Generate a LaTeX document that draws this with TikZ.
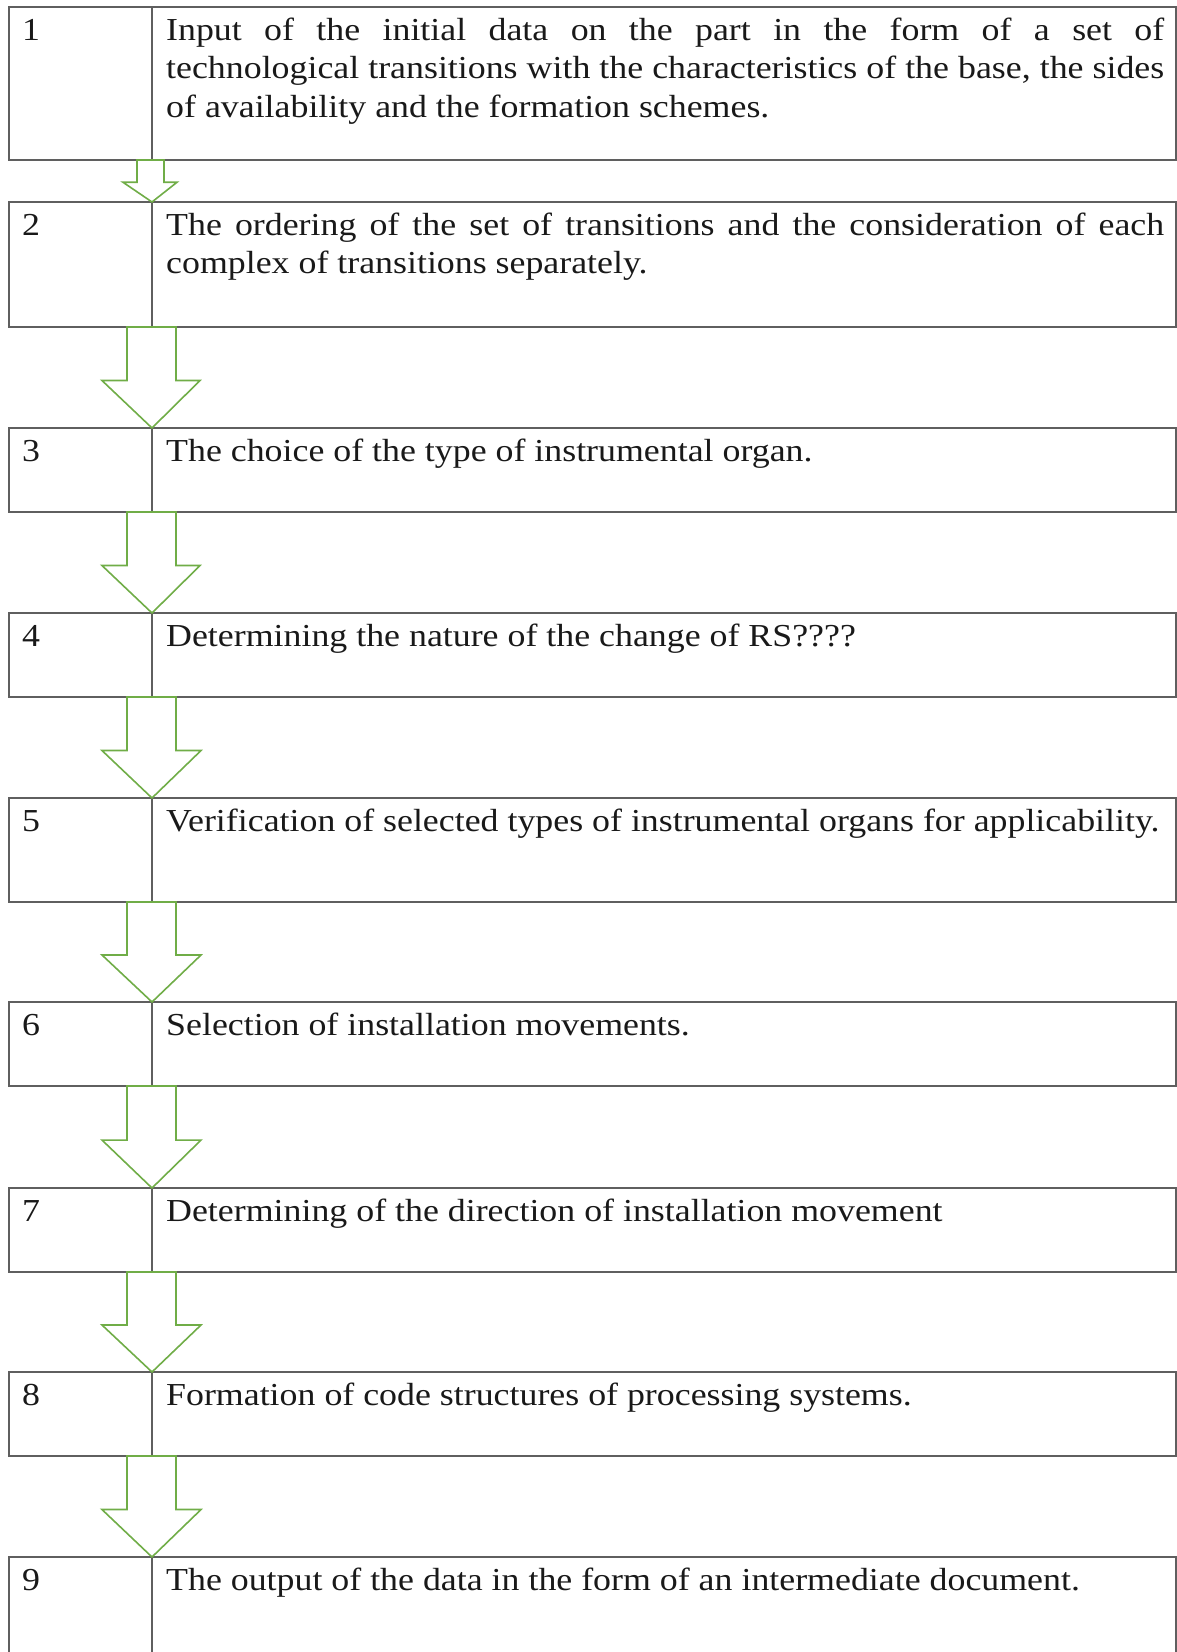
\documentclass[tikz,border=0pt]{standalone}
\usepackage{fontspec}
\setmainfont[FakeStretch=1.12]{Liberation Serif}
\usetikzlibrary{calc}
\definecolor{boxline}{RGB}{95,95,95}
\definecolor{arrgreen}{RGB}{112,173,71}
\definecolor{txt}{RGB}{25,25,25}
\newcommand{\stepfont}{\fontsize{32}{38.5}\selectfont}
\newcommand{\flowarrow}[6]{%
  \draw[arr] ($(#1.south east)+(-#3,0)$) -- ($(#1.south east)+(#4,0)$)
    -- ($(#1.south east)!0.53!(#2.north east)+(#4,0)$)
    -- ($(#1.south east)!0.53!(#2.north east)+(#6,0)$)
    -- (#2.north east)
    -- ($(#1.south east)!0.53!(#2.north east)+(-#5,0)$)
    -- ($(#1.south east)!0.53!(#2.north east)+(-#3,0)$) -- cycle;}
\begin{document}
\begin{tikzpicture}[x=1pt,y=-1pt,
  cell/.style={draw=boxline, line width=1.5pt, outer sep=0pt, inner sep=0pt, anchor=north west},
  numcell/.style={cell, minimum width=143pt},
  txtcell/.style={cell, minimum width=1024pt},
  numtext/.style={anchor=base west, inner sep=0pt, text=txt, font=\stepfont},
  steptext/.style={anchor=base west, inner sep=0pt, text=txt, font=\stepfont},
  arr/.style={draw=arrgreen, line width=1.6pt, fill=white, line join=miter}]
\useasboundingbox (0,0) rectangle (1177,1652);
\clip (0,0) rectangle (1177,1652);
\fill[white] (0,0) rectangle (1177,1652);

% boxes
\node[numcell, minimum height=153pt] (l1) at (9,7) {};
\node[txtcell, minimum height=153pt] (r1) at (l1.north east) {};
\node[numcell, minimum height=125pt] (l2) at (9,202) {};
\node[txtcell, minimum height=125pt] (r2) at (l2.north east) {};
\node[numcell, minimum height=84pt] (l3) at (9,428) {};
\node[txtcell, minimum height=84pt] (r3) at (l3.north east) {};
\node[numcell, minimum height=84pt] (l4) at (9,613) {};
\node[txtcell, minimum height=84pt] (r4) at (l4.north east) {};
\node[numcell, minimum height=104pt] (l5) at (9,798) {};
\node[txtcell, minimum height=104pt] (r5) at (l5.north east) {};
\node[numcell, minimum height=84pt] (l6) at (9,1002) {};
\node[txtcell, minimum height=84pt] (r6) at (l6.north east) {};
\node[numcell, minimum height=84pt] (l7) at (9,1188) {};
\node[txtcell, minimum height=84pt] (r7) at (l7.north east) {};
\node[numcell, minimum height=84pt] (l8) at (9,1372) {};
\node[txtcell, minimum height=84pt] (r8) at (l8.north east) {};
\node[numcell, minimum height=143pt] (l9) at (9,1557) {};
\node[txtcell, minimum height=143pt] (r9) at (l9.north east) {};

% numbers
\foreach \i in {1,...,9} {
  \node[numtext] (n\i) at ($(l\i.north west)+(13,33)$) {\i};
}

% texts
\node[steptext] (t1) at ($(r1.north west)+(14,33)$) {\parbox[t]{998pt}{\stepfont Input of the initial data on the part in the form of a set of\linebreak technological transitions with the characteristics of the base, the sides\linebreak of availability and the formation schemes.}};
\node[steptext] (t2) at ($(r2.north west)+(14,33)$) {\parbox[t]{998pt}{\stepfont The ordering of the set of transitions and the consideration of each\linebreak complex of transitions separately.}};
\node[steptext] (t3) at ($(r3.north west)+(14,33)$) {The choice of the type of instrumental organ.};
\node[steptext] (t4) at ($(r4.north west)+(14,33)$) {Determining the nature of the change of RS????};
\node[steptext] (t5) at ($(r5.north west)+(14,33)$) {Verification of selected types of instrumental organs for applicability.};
\node[steptext] (t6) at ($(r6.north west)+(14,33)$) {Selection of installation movements.};
\node[steptext] (t7) at ($(r7.north west)+(14,33)$) {Determining of the direction of installation movement};
\node[steptext] (t8) at ($(r8.north west)+(14,33)$) {Formation of code structures of processing systems.};
\node[steptext] (t9) at ($(r9.north west)+(14,33)$) {The output of the data in the form of an intermediate document.};

% arrows
\flowarrow{l1}{l2}{15}{12}{29}{25}
\flowarrow{l2}{l3}{25}{24}{50}{48}
\flowarrow{l3}{l4}{25}{24}{50}{48}
\flowarrow{l4}{l5}{25}{24}{50}{49}
\flowarrow{l5}{l6}{25}{24}{50}{49}
\flowarrow{l6}{l7}{25}{24}{50}{49}
\flowarrow{l7}{l8}{25}{24}{50}{49}
\flowarrow{l8}{l9}{25}{24}{50}{49}
\end{tikzpicture}
\end{document}
